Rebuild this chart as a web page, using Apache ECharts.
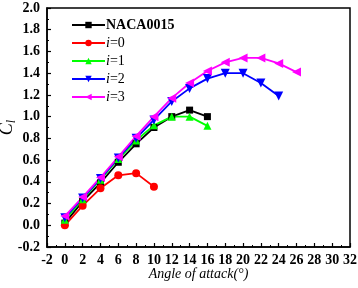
<!DOCTYPE html>
<html><head><meta charset="utf-8">
<script src="https://cdn.jsdelivr.net/npm/echarts@6/dist/echarts.min.js"></script>
<style>html,body{margin:0;padding:0;background:#fff}#c{width:358px;height:288px}</style>
</head><body><div id="c"></div>
<script>
const xTicks = [-2,0,2,4,6,8,10,12,14,16,18,20,22,24,26,28,30,32];
const seriesNames = ['NACA0015','i=0','i=1','i=2','i=3'];
const anglesNACA = [0,2,4,6,8,10,12,14,16];
const clNACA = [0.02,0.22,0.39,0.58,0.75,0.90,1.00,1.06,1.00];
const anglesI0 = [0,2,4,6,8,10];
const clI0 = [0.00,0.18,0.34,0.46,0.48,0.355];
const anglesI1 = [0,2,4,6,8,10,12,14,16];
const clI1 = [0.05,0.24,0.42,0.61,0.78,0.92,1.00,1.00,0.915];
const anglesI2 = [0,2,4,6,8,10,12,14,16,18,20,22,24];
const clI2 = [0.07,0.25,0.43,0.62,0.80,0.97,1.14,1.26,1.35,1.40,1.40,1.31,1.19];
const anglesI3 = [0,2,4,6,8,10,12,14,16,18,20,22,24,26];
const clI3 = [0.085,0.26,0.44,0.63,0.82,1.00,1.17,1.31,1.42,1.50,1.54,1.54,1.49,1.41];

const colors = ['#000000','#ff0000','#00ff00','#0000ff','#ff00ff'];
const symbols = ['rect','circle','triangle','triangle','triangle'];
const rotates = [0,0,0,180,90];
const sizes = [7,8,8,9,9];
const xs = [anglesNACA, anglesI0, anglesI1, anglesI2, anglesI3];
const ys = [clNACA, clI0, clI1, clI2, clI3];

const font = '"Liberation Serif","Times New Roman",serif';
const chart = echarts.init(document.getElementById('c'));
chart.setOption({
  animation: false,
  grid: {left: 47, right: 8, top: 8, bottom: 41, containLabel: false, outerBoundsMode: 'none',
    show: true, borderColor: '#000', borderWidth: 1.5},
  legend: {
    left: 66, top: 12, orient: 'vertical', itemWidth: 33, itemHeight: 8, itemGap: 2,
    data: seriesNames,
    formatter: function(n){ return n.startsWith('i=') ? '{it|i}{n|' + n.slice(1) + '}' : '{b|' + n + '}'; },
    textStyle: {fontFamily: font, fontSize: 14, color: '#000', padding: [0,0,0,-4], lineHeight: 16,
      rich: {it: {fontFamily: font, fontSize: 14, fontStyle: 'italic', lineHeight: 16}, n: {fontFamily: font, fontSize: 14, lineHeight: 16}, b: {fontFamily: font, fontSize: 14, fontWeight: 'bold', lineHeight: 16}}}
  },
  xAxis: {
    type: 'value', min: -2, max: 32, interval: 2,
    name: 'Angle of attack(°)', nameLocation: 'middle', nameGap: 20, nameMoveOverlap: false,
    nameTextStyle: {fontFamily: font, fontSize: 14, fontStyle: 'italic', color: '#000'},
    axisLine: {onZero: false, lineStyle: {color: '#000', width: 1.5}},
    axisTick: {inside: true, length: 4, lineStyle: {color: '#000', width: 1.2}},
    minorTick: {show: true, splitNumber: 2, length: 2, lineStyle: {color: '#000', width: 1}},
    splitLine: {show: false},
    axisLabel: {fontFamily: font, fontSize: 14, fontWeight: 'bold', color: '#000', margin: 6,
      formatter: function(v){ return xTicks.indexOf(v) >= 0 ? String(v) : ''; }}
  },
  yAxis: {
    type: 'value', min: -0.2, max: 2.0, interval: 0.2,
    name: '{c|C}{l|l}', nameLocation: 'middle', nameGap: 29, nameMoveOverlap: false,
    nameTextStyle: {color: '#000', rich: {c: {fontFamily: font, fontSize: 18, fontStyle: 'italic'}, l: {fontFamily: font, fontSize: 12, fontStyle: 'italic', verticalAlign: 'bottom', padding: [10,0,0,0]}}},
    axisLine: {onZero: false, lineStyle: {color: '#000', width: 1.5}},
    axisTick: {inside: true, length: 4, lineStyle: {color: '#000', width: 1.2}},
    minorTick: {show: true, splitNumber: 2, length: 2, lineStyle: {color: '#000', width: 1}},
    splitLine: {show: false},
    axisLabel: {fontFamily: font, fontSize: 14, fontWeight: 'bold', color: '#000', margin: 7,
      formatter: function(v){ return (Math.round(v*10)/10).toFixed(1); }}
  },
  series: seriesNames.map(function(n, k){
    return {
      name: n, type: 'line', data: xs[k].map(function(a, j){ return [a, ys[k][j]]; }),
      symbol: symbols[k], symbolRotate: rotates[k], symbolSize: sizes[k],
      itemStyle: {color: colors[k]}, lineStyle: {color: colors[k], width: 1.8},
      showAllSymbol: true
    };
  })
});
</script></body></html>
